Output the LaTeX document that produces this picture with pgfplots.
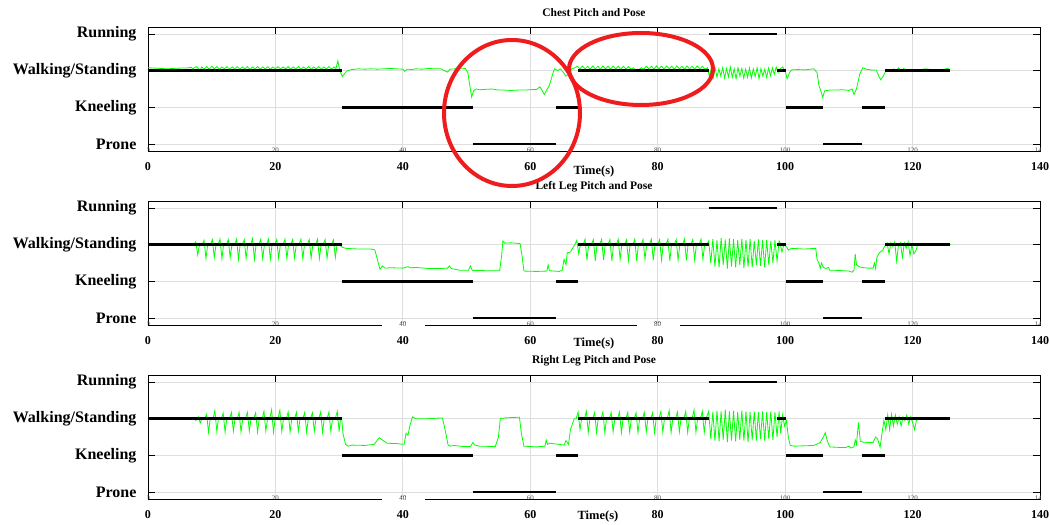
\documentclass[border=0pt]{standalone}
\usepackage{fontspec}
\setmainfont{Liberation Serif}
\usepackage{pgfplots}
\pgfplotsset{compat=1.18}
\definecolor{sig}{HTML}{00FF00}
\definecolor{ann}{HTML}{EE1C1C}
\tikzset{tinylab/.style={font=\fontsize{7}{7}\selectfont, text=black!70, inner sep=0pt, yshift=1pt}}
\pgfplotsset{
  poseax/.style={
    scale only axis, width=892pt, height=124pt, anchor=south west,
    xmin=0, xmax=140, ymin=0.81, ymax=4.19,
    xtick={0,20,...,140}, ytick={1,2,3,4},
    yticklabels={Prone,Kneeling,Walking/Standing,Running},
    xtick pos=right, xticklabel pos=left, ytick pos=both, yticklabel pos=left,
    tick align=inside, major tick length=7pt,
    grid=major, major grid style={line width=0.8pt, black!13},
    axis line style={line width=0.8pt}, tick style={line width=0.8pt, black},
    /pgf/number format/assume math mode=true,
    x tick label style={font=\bfseries\fontsize{12}{12}\selectfont, yshift=-8pt},
    y tick label style={font=\bfseries\fontsize{16}{16}\selectfont, xshift=-8pt},
    title style={at={(0.5,1)}, anchor=center, yshift=8pt, font=\bfseries\fontsize{11.5}{12}\selectfont},
    xlabel={Time(s)},
    xlabel style={at={(axis description cs:0.5,0)}, anchor=center, font=\bfseries\fontsize{12.5}{13}\selectfont},
    clip=true,
  },
  pose/.style={black, line width=2.6pt, forget plot},
  sigl/.style={sig, line width=0.8pt},
}
\newcommand{\poses}{%
  \addplot[pose] coordinates {(0,3) (30.5,3)};
  \addplot[pose] coordinates {(30.5,2) (51,2)};
  \addplot[pose] coordinates {(51,1) (64,1)};
  \addplot[pose] coordinates {(64,2) (67.5,2)};
  \addplot[pose] coordinates {(67.5,3) (88,3)};
  \addplot[pose] coordinates {(88,4) (98.7,4)};
  \addplot[pose] coordinates {(98.7,3) (100.2,3)};
  \addplot[pose] coordinates {(100.2,2) (106,2)};
  \addplot[pose] coordinates {(106,1) (112,1)};
  \addplot[pose] coordinates {(112,2) (115.7,2)};
  \addplot[pose] coordinates {(115.7,3) (125.8,3)};
  \pgfplotsinvokeforeach{0,20,40,60,80,100,120,140}{
    \node[tinylab] at (axis cs:##1,0.81) {##1};
  }
}
\begin{document}
\begin{tikzpicture}
\useasboundingbox (0,0) rectangle (1050pt,525pt);

% ---------- Chest ----------
\begin{axis}[poseax, at={(148pt,374pt)}, title={Chest Pitch and Pose}, xlabel style={yshift=-20pt}]
\addplot[sigl] coordinates {
(0,3.08)(1,3.07)(2,3.06)(3,3.05)(4,3.06)(5,3.07)(6,3.07)(6.8,3.09)(7.0,3.05)
(7.2,3.07)(7.6,3.11)(8.0,3.04)(8.2,3.0)(8.4,3.1)(8.8,3.05)(9.2,3.11)(9.6,3.04)(10.0,3.12)(10.4,3.05)
(10.8,3.11)(11.2,3.04)(11.6,3.1)(12.0,3.05)(12.4,3.11)(12.8,3.04)(13.2,3.1)(13.6,3.05)(14.0,3.11)
(14.4,3.04)(14.8,3.1)(15.2,3.05)(15.6,3.11)(16.0,3.03)(16.4,3.1)(16.8,3.05)(17.2,3.11)(17.6,3.04)
(18.0,3.1)(18.4,3.05)(18.8,3.11)(19.2,3.04)(19.6,3.1)(20.0,3.05)(20.4,3.11)(20.8,3.04)(21.2,3.1)
(21.6,3.05)(22.0,3.11)(22.4,3.04)(22.8,3.1)(23.2,3.05)(23.6,3.11)(24.0,3.04)(24.4,3.1)(24.8,3.05)
(25.2,3.11)(25.6,3.04)(26.0,3.1)(26.4,3.05)(26.8,3.11)(27.2,3.04)(27.6,3.1)(28.0,3.05)(28.4,3.11)
(28.8,3.04)(29.2,3.1)(29.5,3.06)
(29.8,3.27)(30.1,3.0)(30.5,2.84)(30.9,2.93)(31.3,3.0)(32,3.03)(33,3.05)(34,3.04)(35,3.05)(36,3.04)
(37,3.05)(38,3.06)(39,3.05)(40,3.04)(40.3,2.98)(40.7,3.04)(41.5,3.03)(42,3.05)(43,3.04)(44,3.06)
(45,3.05)(46,3.05)(46.5,3.0)(47,2.96)(47.4,3.04)(48.3,3.05)(49,3.07)(49.8,3.06)(50.2,2.95)
(50.5,2.6)(50.8,2.28)(51.1,2.45)(51.5,2.5)(52,2.48)(53,2.49)(54,2.5)(55,2.47)(56,2.47)(57,2.46)
(58,2.47)(59,2.47)(60,2.48)(61,2.49)(61.5,2.56)(61.8,2.48)(62.2,2.35)(62.5,2.45)(63,2.6)(63.5,2.9)
(63.8,3.05)(64.3,3.0)(64.7,3.05)(65.2,2.95)(65.6,2.85)(66.0,2.9)(66.5,3.05)(67,3.08)
(67.4,3.12)(67.8,3.05)(68.2,3.13)(68.6,3.05)(69.0,3.12)(69.4,3.04)(69.8,3.13)(70.2,3.05)(70.6,3.12)
(71.0,3.04)(71.4,3.13)(71.8,3.05)(72.2,3.12)(72.6,3.04)(73.0,3.13)(73.4,3.05)(73.8,3.12)(74.2,3.04)
(74.6,3.12)(75.0,3.05)(75.4,3.11)(75.8,3.04)(76.2,3.08)(76.6,3.0)(77.0,3.02)(77.4,3.08)(77.8,3.04)
(78.2,3.12)(78.6,3.05)(79.0,3.12)(79.4,3.04)(79.8,3.13)(80.2,3.05)(80.6,3.12)(81.0,3.04)(81.4,3.13)
(81.8,3.05)(82.2,3.12)(82.6,3.04)(83.0,3.13)(83.4,3.05)(83.8,3.12)(84.2,3.04)(84.6,3.13)(85.0,3.05)
(85.4,3.12)(85.8,3.04)(86.2,3.13)(86.6,3.05)(87.0,3.12)(87.4,3.04)(87.8,3.08)
(88.1,2.85)(88.4,3.05)(88.7,2.8)(89.0,3.07)(89.3,2.82)(89.6,3.05)(89.9,2.85)(90.2,3.08)(90.5,2.8)
(90.8,3.06)(91.1,2.83)(91.4,3.1)(91.7,2.82)(92.0,3.05)(92.3,2.78)(92.6,3.08)(92.9,2.85)(93.2,3.06)
(93.5,2.8)(93.8,3.04)(94.1,2.82)(94.4,3.07)(94.7,2.8)(95.0,3.05)(95.3,2.84)(95.6,3.08)(95.9,2.78)
(96.2,3.06)(96.5,2.85)(96.8,3.04)(97.1,2.82)(97.4,3.07)(97.7,2.86)(98.0,3.08)(98.3,2.9)(98.6,3.1)
(98.9,2.95)(99.2,3.05)(99.6,3.1)(100.0,3.0)(100.3,2.78)(100.7,2.95)(101,3.02)(102,3.03)(103,3.02)
(104,3.04)(104.5,3.05)(105,2.95)(105.3,2.6)(105.6,2.45)(105.9,2.27)(106.2,2.45)(107,2.47)(108,2.47)
(109,2.48)(110,2.46)(110.5,2.5)(110.8,2.35)(111.2,2.5)(111.7,2.9)(112.2,3.08)(112.7,3.04)(113.5,3.02)
(114.3,3.02)(114.7,2.85)(115.0,2.75)(115.4,2.85)(115.8,3.0)(116.2,3.02)(116.6,2.98)(117,3.05)
(117.4,2.99)(117.8,3.08)(118.2,3.0)(118.6,3.06)(119,3.02)(120,3.03)(121,3.02)(122,3.05)(123,3.03)
(124,3.02)(125,3.04)(125.7,3.07)
};
\poses
\end{axis}

% ---------- Left leg ----------
\begin{axis}[poseax, at={(148pt,200pt)}, title={Left Leg Pitch and Pose}, xlabel style={yshift=-18pt}]
\addplot[sigl] coordinates {
(0,3.0)(2,3.01)(4,3.0)(7,3.0)
(7.2,3.0)(7.5,3.08)(7.8,2.72)(8.05,2.97)
(8.5,3.0)(8.8,3.12)(9.1,2.62)(9.35,2.98)
(9.8,3.0)(10.1,3.14)(10.4,2.65)(10.65,2.97)
(11.0,3.0)(11.3,3.15)(11.6,2.62)(11.85,2.98)
(12.3,3.0)(12.6,3.14)(12.9,2.65)(13.15,2.97)
(13.6,3.0)(13.9,3.15)(14.2,2.6)(14.45,2.98)
(14.8,3.0)(15.1,3.14)(15.4,2.63)(15.65,2.97)
(16.1,3.0)(16.4,3.16)(16.7,2.6)(16.95,2.98)
(17.4,3.0)(17.7,3.15)(18.0,2.62)(18.25,2.97)
(18.6,3.0)(18.9,3.15)(19.2,2.6)(19.45,2.98)
(19.9,3.0)(20.2,3.14)(20.5,2.63)(20.75,2.97)
(21.2,3.0)(21.5,3.15)(21.8,2.62)(22.05,2.98)
(22.4,3.0)(22.7,3.14)(23.0,2.64)(23.25,2.97)
(23.7,3.0)(24.0,3.15)(24.3,2.62)(24.55,2.98)
(25.0,3.0)(25.3,3.14)(25.6,2.63)(25.85,2.97)
(26.3,3.0)(26.6,3.15)(26.9,2.62)(27.15,2.98)
(27.5,3.0)(27.8,3.14)(28.1,2.63)(28.35,2.97)
(28.8,3.0)(29.1,3.13)(29.4,2.65)(29.65,2.98)
(30.0,3.0)(30.5,2.93)(31,2.9)(33,2.88)(35,2.88)(35.6,2.86)(36.0,2.6)(36.4,2.33)(36.8,2.42)
(37.2,2.36)(38,2.37)(40,2.36)(40.8,2.4)(41.2,2.37)(42,2.38)(44,2.35)(46,2.35)(47,2.36)(47.3,2.42)
(47.6,2.35)(49,2.3)(50.3,2.3)(50.6,2.42)(50.9,2.3)(53,2.29)(55.2,2.29)(55.5,2.7)(55.7,3.1)(56,3.04)
(57,3.05)(58.4,3.03)(58.7,2.7)(59,2.28)(61,2.27)(62.6,2.28)(62.8,2.45)(63,2.29)(64.5,2.27)(65.0,2.3)
(65.3,2.6)(65.6,2.45)(65.8,2.78)(66.3,2.8)(66.8,2.95)
(67.0,3.0)(67.3,3.12)(67.6,2.75)(67.85,2.98)
(68.3,3.0)(68.6,3.15)(68.9,2.58)(69.15,2.98)
(69.6,3.0)(69.9,3.14)(70.2,2.56)(70.45,2.97)
(70.9,3.0)(71.2,3.15)(71.5,2.58)(71.75,2.98)
(72.2,3.0)(72.5,3.14)(72.8,2.56)(73.05,2.97)
(73.5,3.0)(73.8,3.15)(74.1,2.6)(74.35,2.98)
(74.8,3.0)(75.1,3.13)(75.4,2.57)(75.65,2.97)
(76.1,3.0)(76.4,3.15)(76.7,2.56)(76.95,2.98)
(77.4,3.0)(77.7,3.14)(78.0,2.6)(78.25,2.97)
(78.7,3.0)(79.0,3.15)(79.3,2.57)(79.55,2.98)
(80.0,3.0)(80.3,3.14)(80.6,2.58)(80.85,2.97)
(81.3,3.0)(81.6,3.15)(81.9,2.56)(82.15,2.98)
(82.6,3.0)(82.9,3.14)(83.2,2.58)(83.45,2.97)
(83.9,3.0)(84.2,3.15)(84.5,2.57)(84.75,2.98)
(85.2,3.0)(85.5,3.14)(85.8,2.58)(86.05,2.97)
(86.5,3.0)(86.8,3.15)(87.1,2.6)(87.35,2.98)(87.7,3.0)
(88.0,3.1)(88.33,2.5)(88.65,3.15)(88.98,2.4)(89.3,3.12)(89.63,2.38)(89.95,3.18)(90.28,2.45)
(90.6,3.14)(90.93,2.35)(91.25,3.17)(91.58,2.4)(91.9,3.15)(92.23,2.38)(92.55,3.12)(92.88,2.44)
(93.2,3.16)(93.53,2.36)(93.85,3.13)(94.18,2.4)(94.5,3.15)(94.83,2.38)(95.15,3.1)(95.48,2.45)
(95.8,3.14)(96.13,2.42)(96.45,3.12)(96.78,2.38)(97.1,3.13)(97.43,2.45)(97.75,3.1)(98.08,2.5)
(98.4,3.12)(98.73,2.55)(99.05,3.1)
(99.2,3.05)(99.5,2.8)(99.8,3.0)(100.2,2.95)(100.5,2.85)(101,2.9)(103,2.88)(104.8,2.9)(105.0,2.6)
(105.3,2.5)(105.5,2.35)(105.7,2.5)(106,2.38)(106.4,2.35)(106.8,2.38)(107,2.3)(108,2.3)(110,2.28)
(110.5,2.25)(110.8,2.3)(111.0,2.75)(111.2,2.45)(111.6,2.4)(112.0,2.38)(113,2.36)(113.8,2.36)
(114.0,2.5)(114.2,2.35)(114.4,2.65)(114.8,2.78)(115.3,2.85)(115.6,2.95)
(116.0,3.05)(116.3,2.75)(116.6,3.05)(116.9,2.95)(117.2,3.08)(117.5,2.55)(117.8,3.0)(118.1,3.05)
(118.4,2.65)(118.7,3.05)(119.0,2.9)(119.3,3.08)(119.6,2.7)(119.9,3.0)(120.2,2.75)(120.5,2.82)
(120.8,3.0)(122,3.0)(124,3.0)(126,3.0)
};
\poses
\end{axis}

% ---------- Right leg ----------
\begin{axis}[poseax, at={(148pt,26pt)}, title={Right Leg Pitch and Pose}, xlabel style={yshift=-17pt, xshift=4pt}]
\addplot[sigl] coordinates {
(0,3.02)(3,3.02)(6,3.0)(7.3,3.0)(7.5,2.95)
(7.6,2.98)(7.9,3.05)(8.2,2.88)(8.45,3.0)
(8.9,3.0)(9.2,3.12)(9.5,2.63)(9.75,2.98)
(10.2,3.0)(10.5,3.22)(10.8,2.65)(11.05,2.98)
(11.5,3.0)(11.8,3.15)(12.1,2.63)(12.35,2.98)
(12.8,3.0)(13.1,3.17)(13.4,2.66)(13.65,2.98)
(14.0,3.0)(14.3,3.17)(14.6,2.63)(14.85,2.98)
(15.3,3.0)(15.6,3.17)(15.9,2.66)(16.15,2.98)
(16.6,3.0)(16.9,3.16)(17.2,2.63)(17.45,2.98)
(17.9,3.0)(18.2,3.2)(18.5,2.66)(18.75,2.98)
(19.1,3.0)(19.4,3.24)(19.7,2.63)(19.95,2.98)
(20.4,3.0)(20.7,3.23)(21.0,2.65)(21.25,2.98)
(21.7,3.0)(22.0,3.18)(22.3,2.63)(22.55,2.98)
(23.0,3.0)(23.3,3.17)(23.6,2.66)(23.85,2.98)
(24.3,3.0)(24.6,3.17)(24.9,2.63)(25.15,2.98)
(25.5,3.0)(25.8,3.16)(26.1,2.66)(26.35,2.98)
(26.8,3.0)(27.1,3.18)(27.4,2.63)(27.65,2.98)
(28.1,3.0)(28.4,3.18)(28.7,2.65)(28.95,2.98)
(29.4,3.0)(29.7,3.2)(30.0,2.65)(30.2,2.98)
(30.4,3.0)(30.6,2.6)(31.0,2.3)(31.4,2.25)(32,2.28)(34,2.27)(35.5,2.3)(36.3,2.48)(36.8,2.42)
(37.5,2.33)(39,2.32)(40.2,2.3)(40.5,2.6)(40.8,2.55)(41.1,2.8)(41.5,3.05)(42,3.0)(44,3.0)(46.2,3.02)
(46.5,2.8)(46.8,2.55)(47.1,2.28)(47.5,2.25)(48,2.27)(49.5,2.24)(50.6,2.24)(51,2.35)(51.3,2.28)
(52,2.25)(54.5,2.24)(55.0,2.5)(55.3,3.0)(56,3.02)(57,3.03)(58.3,3.04)(58.6,2.6)(59,2.25)(61,2.23)
(62.3,2.25)(62.5,2.42)(62.7,2.3)(63,2.33)(64.5,2.3)(65.3,2.28)(65.6,2.4)(66.0,2.3)(66.3,2.7)
(66.6,2.85)(66.9,3.0)
(67.2,3.0)(67.5,3.18)(67.8,2.7)(68.05,2.98)
(68.5,3.0)(68.8,3.2)(69.1,2.62)(69.35,2.98)
(69.8,3.0)(70.1,3.17)(70.4,2.63)(70.65,2.98)
(71.1,3.0)(71.4,3.18)(71.7,2.62)(71.95,2.98)
(72.4,3.0)(72.7,3.17)(73.0,2.64)(73.25,2.98)
(73.7,3.0)(74.0,3.18)(74.3,2.62)(74.55,2.98)
(75.0,3.0)(75.3,3.17)(75.6,2.63)(75.85,2.98)
(76.3,3.0)(76.6,3.16)(76.9,2.62)(77.15,2.98)
(77.6,3.0)(77.9,3.17)(78.2,2.64)(78.45,2.98)
(78.9,3.0)(79.2,3.16)(79.5,2.62)(79.75,2.98)
(80.2,3.0)(80.5,3.2)(80.8,2.63)(81.05,2.98)
(81.5,3.0)(81.8,3.22)(82.1,2.62)(82.35,2.98)
(82.8,3.0)(83.1,3.18)(83.4,2.64)(83.65,2.98)
(84.1,3.0)(84.4,3.2)(84.7,2.62)(84.95,2.98)
(85.4,3.0)(85.7,3.24)(86.0,2.63)(86.25,2.98)
(86.7,3.0)(87.0,3.2)(87.3,2.62)(87.55,2.98)
(88.0,3.2)(88.33,2.45)(88.65,3.18)(88.98,2.4)(89.3,3.22)(89.63,2.38)(89.95,3.2)(90.28,2.42)
(90.6,3.25)(90.93,2.36)(91.25,3.2)(91.58,2.4)(91.9,3.22)(92.23,2.38)(92.55,3.18)(92.88,2.42)
(93.2,3.22)(93.53,2.4)(93.85,3.2)(94.18,2.36)(94.5,3.18)(94.83,2.42)(95.15,3.2)(95.48,2.4)
(95.8,3.18)(96.13,2.44)(96.45,3.2)(96.78,2.4)(97.1,3.18)(97.43,2.45)(97.75,3.2)(98.08,2.42)
(98.4,3.18)(98.73,2.5)(99.05,3.2)(99.3,2.6)
(99.6,3.1)(99.9,2.8)(100.2,2.95)(100.5,2.5)(100.8,2.27)(101.5,2.25)(103,2.26)(104.5,2.27)
(105.5,2.35)(106.0,2.5)(106.3,2.62)(106.6,2.4)(107,2.23)(108,2.22)(109.5,2.21)(110,2.25)(110.3,2.2)
(110.8,2.23)(111.0,2.42)(111.2,2.3)(111.5,2.9)(111.8,2.38)(112.3,2.36)(113,2.35)(113.8,2.35)
(114.2,2.5)(114.5,2.45)(114.9,2.22)(115.2,2.6)(115.5,2.95)(115.8,2.7)(116.1,3.1)(116.4,2.7)
(116.7,3.12)(117.0,2.8)(117.3,3.1)(117.6,2.85)(117.9,3.05)(118.2,2.8)(118.5,3.05)(118.8,2.95)
(119.1,3.1)(119.4,2.85)(119.7,3.05)(120.0,2.9)(120.3,2.7)(120.6,2.95)(121.0,3.0)(121.5,3.0)
};
\poses
\end{axis}

% white breaks in the lower frame lines, as in the reference
\fill[white] (382pt,198.3pt) rectangle (425pt,201.7pt);
\fill[white] (637pt,198.3pt) rectangle (680pt,201.7pt);
\fill[white] (382pt,24.3pt) rectangle (425pt,27.7pt);
% the small tick labels stay visible over the breaks
\node[tinylab] at (402.9pt,200pt) {40};
\node[tinylab] at (657.7pt,200pt) {80};
\node[tinylab] at (402.9pt,26pt) {40};

% annotation ellipses on the chest panel
\draw[ann, line width=4pt] (512pt,412pt) ellipse [x radius=68pt, y radius=73pt];
\draw[ann, line width=4pt] (641pt,456pt) ellipse [x radius=72pt, y radius=36pt];
\end{tikzpicture}
\end{document}
